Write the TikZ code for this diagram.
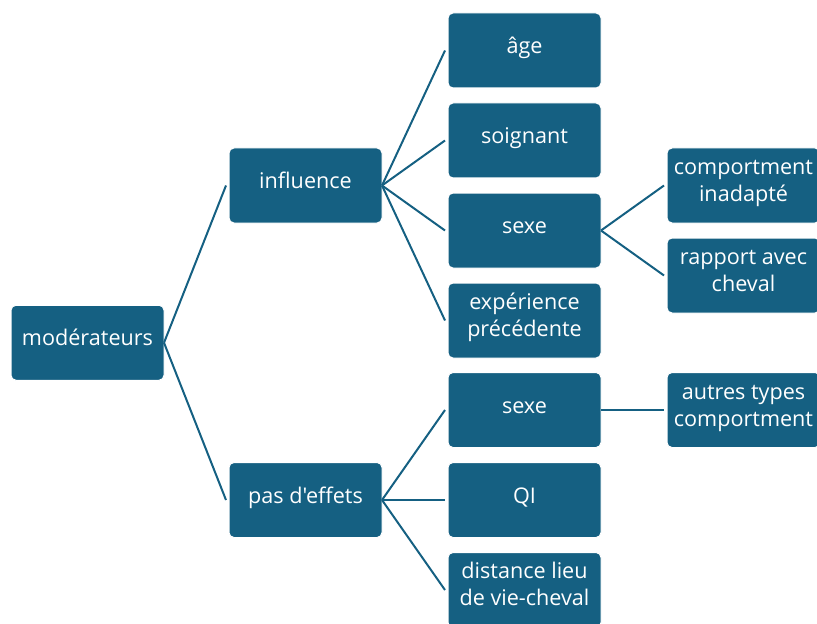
\documentclass[tikz,border=0pt]{standalone}
\usepackage{fontspec}
\setmainfont{Open Sans}[Ligatures=TeXOff]
\usetikzlibrary{calc}
\definecolor{acc}{HTML}{156082}
\begin{document}
\begin{tikzpicture}[x=0.75pt,y=-0.75pt,
  box/.style={draw=white, line width=0.75pt, fill=acc, rounded corners=3.75pt,
    minimum width=114.75pt, minimum height=56.25pt, inner sep=0pt, outer sep=0pt},
  txt/.style={text=white, font=\fontsize{16.2}{20.25}\selectfont, align=center,
    inner sep=0pt, anchor=base},
  link/.style={draw=acc, line width=1.5pt},
]
\useasboundingbox (0,0) rectangle (817,624);
\clip (0,0) rectangle (817,624);
% boxes
\node[box] (mod) at (87.5,342.75) {};
\node[box] (inf) at (305.5,185.5) {};
\node[box] (pas) at (305.5,500) {};
\node[box] (age) at (524.5,50.5) {};
\node[box] (soi) at (524.5,140.5) {};
\node[box] (sexa) at (524.5,230.5) {};
\node[box] (exp) at (524.5,320.5) {};
\node[box] (sexb) at (524.5,410) {};
\node[box] (qi) at (524.5,500) {};
\node[box] (dist) at (524.5,590) {};
\node[box] (comp) at (743.5,185.5) {};
\node[box] (rap) at (743.5,275.5) {};
\node[box] (aut) at (743.5,410) {};
% texts (anchor base = baseline of the last line)
\node[txt] (tmod) at ($(mod.center)+(0,3)$) {modérateurs};
\node[txt] (tinf) at ($(inf.center)+(0,3)$) {influence};
\node[txt] (tpas) at ($(pas.center)+(0,3)$) {pas d'effets};
\node[txt] (tage) at ($(age.center)+(0,3)$) {âge};
\node[txt] (tsoi) at ($(soi.center)+(0,3)$) {soignant};
\node[txt] (tsexa) at ($(sexa.center)+(0,3)$) {sexe};
\node[txt] (texp) at ($(exp.center)+(0,16)$) {expérience\\précédente};
\node[txt] (tsexb) at ($(sexb.center)+(0,3)$) {sexe};
\node[txt] (tqi) at ($(qi.center)+(0,3)$) {QI};
\node[txt] (tdist) at ($(dist.center)+(0,15)$) {distance lieu\\de vie-cheval};
\node[txt] (tcomp) at ($(comp.center)+(0,16)$) {comportment\\inadapté};
\node[txt] (trap) at ($(rap.center)+(0,16)$) {rapport avec\\cheval};
\node[txt] (taut) at ($(aut.center)+(0,16)$) {autres types\\comportment};
% links
\draw[link] (mod.east) -- ($(inf.west)+(-3,0)$);
\draw[link] (mod.east) -- ($(pas.west)+(-3,0)$);
\foreach \c in {age,soi,sexa,exp} \draw[link] (inf.east) -- ($(\c.west)+(-3,0)$);
\foreach \c in {sexb,qi,dist} \draw[link] (pas.east) -- ($(\c.west)+(-3,0)$);
\foreach \c in {comp,rap} \draw[link] (sexa.east) -- ($(\c.west)+(-3,0)$);
\draw[link] (sexb.east) -- ($(aut.west)+(-3,0)$);
\end{tikzpicture}
\end{document}
